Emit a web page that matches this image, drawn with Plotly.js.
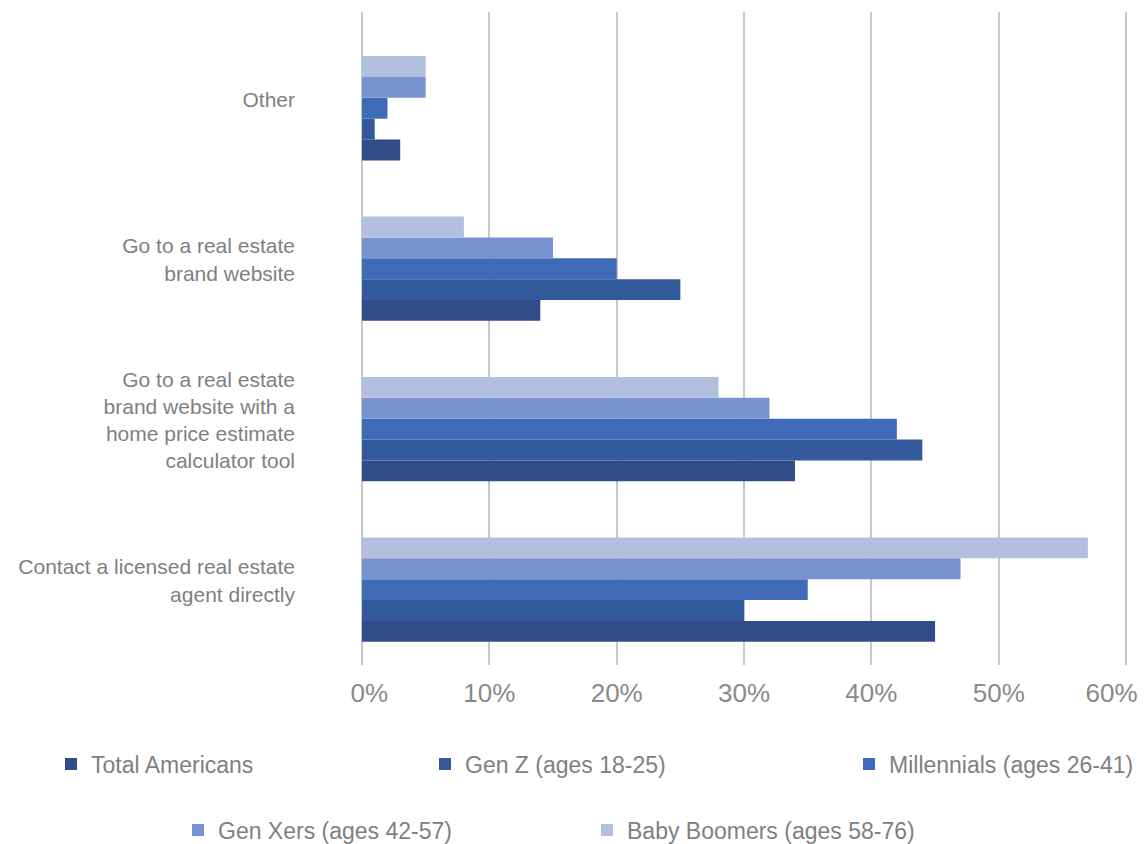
<!DOCTYPE html>
<html>
<head>
<meta charset="utf-8">
<script src="https://cdn.plot.ly/plotly-3.0.1.min.js"></script>
<style>html,body{margin:0;padding:0;background:#fff;}#chart{width:1147px;height:844px;}</style>
</head>
<body>
<div id="chart"></div>
<script>
const categories = [
  "Contact a licensed real estate<br>agent directly",
  "Go to a real estate<br>brand website with a<br>home price estimate<br>calculator tool",
  "Go to a real estate<br>brand website",
  "Other"
];
const seriesNames = ["Total Americans", "Gen Z (ages 18-25)", "Millennials (ages 26-41)", "Gen Xers (ages 42-57)", "Baby Boomers (ages 58-76)"];
const totalAmericans = [45, 34, 14, 3];
const genZ = [30, 44, 25, 1];
const millennials = [35, 42, 20, 2];
const genX = [47, 32, 15, 5];
const babyBoomers = [57, 28, 8, 5];
const tickValues = [0, 10, 20, 30, 40, 50, 60];
const tickLabels = ["\u00A0\u00A00%", "10%", "20%", "30%", "40%", "50%", "60%\u00A0\u00A0\u00A0\u00A0"];

const colors = ["#324C8A", "#32599B", "#3E6AB8", "#7992D0", "#B3BFDF"];
const values = [totalAmericans, genZ, millennials, genX, babyBoomers];
const legendIds = ["legend", "legend2", "legend3", "legend4", "legend5"];

const traces = values.map((v, i) => ({
  type: "bar",
  orientation: "h",
  name: seriesNames[i],
  x: v,
  y: categories,
  marker: { color: colors[i] },
  legend: legendIds[i],
  hoverinfo: "x+name"
}));

const legendFont = { family: "Liberation Sans, Arial, sans-serif", size: 23, color: "#808080" };
function leg(xpx, ypx) {
  return {
    orientation: "h", xref: "container", yref: "container",
    x: xpx / 1147, y: 1 - ypx / 844, xanchor: "left", yanchor: "middle",
    font: legendFont, bgcolor: "rgba(0,0,0,0)", borderwidth: 0
  };
}

const layout = {
  width: 1147, height: 844,
  margin: { l: 362, r: 19, t: 12, b: 179 },
  paper_bgcolor: "#ffffff", plot_bgcolor: "#ffffff",
  barmode: "group", bargap: 0.35, bargroupgap: 0,
  font: { family: "Liberation Sans, Arial, sans-serif", color: "#808080" },
  xaxis: {
    range: [0, 60.15], tickvals: tickValues, ticktext: tickLabels,
    showgrid: true, gridcolor: "#c8c8c8", gridwidth: 2,
    zeroline: true, zerolinecolor: "#c8c8c8", zerolinewidth: 2,
    showline: false, ticks: "", ticklabelstandoff: 10,
    ticklabeloverflow: "allow",
    tickfont: { size: 26, color: "#8a8a8a" }, fixedrange: true
  },
  yaxis: {
    type: "category", range: [-0.47, 3.6],
    showgrid: false, zeroline: false, showline: false, ticks: "",
    ticklabelstandoff: 66, ticklabelshift: -9,
    tickfont: { size: 21, color: "#808080" }, fixedrange: true
  },
  legend: leg(51, 764),
  legend2: leg(425, 764),
  legend3: leg(849, 764),
  legend4: leg(178, 830),
  legend5: leg(587, 830),
  showlegend: true
};

Plotly.newPlot("chart", traces, layout, { displayModeBar: false, responsive: false });
</script>
</body>
</html>
